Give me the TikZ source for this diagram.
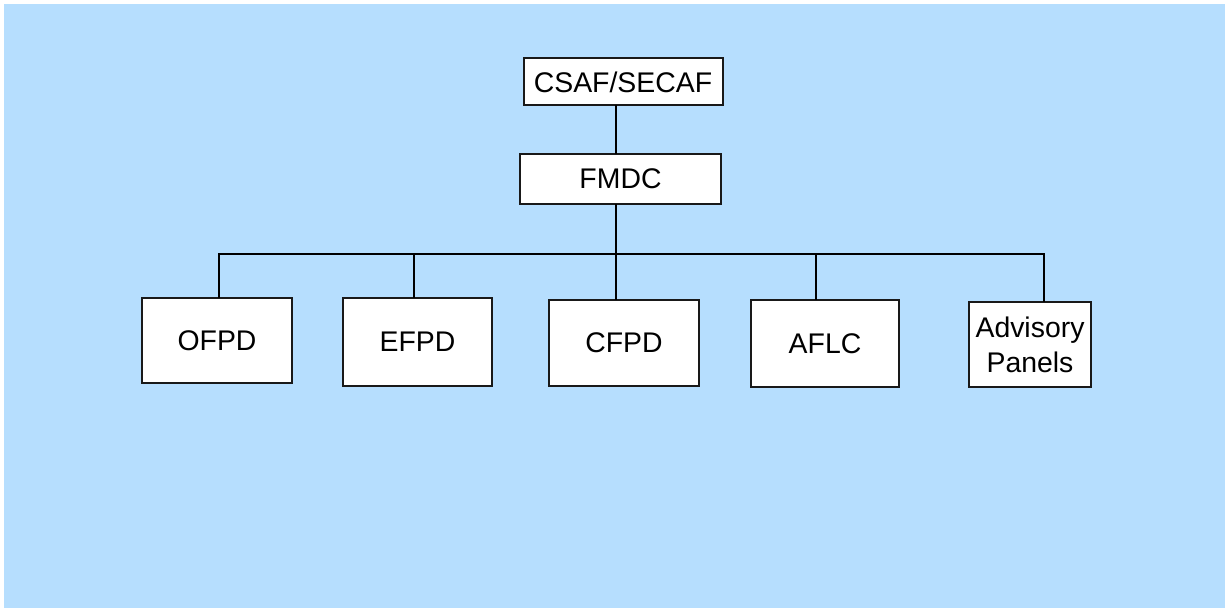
\documentclass[tikz,border=0pt]{standalone}
\usepackage{fontspec}
\setmainfont{Liberation Sans}
\definecolor{skyback}{RGB}{182,222,254}
\begin{document}
\begin{tikzpicture}[x=0.5pt, y=-0.5pt, line cap=rect, line join=miter, font=\fontsize{14.2}{17.5}\selectfont]
			\tikzset{unit box/.style={draw=black!90, line width=1pt, fill=white, inner sep=0pt, align=center}}
			\useasboundingbox (0,0) rectangle (1225,608);
			\fill[skyback] (4,4) rectangle (1225,608);
			% top of the chart
			\node[unit box, minimum width=99.5pt, minimum height=23.5pt] (csaf) at (623,82) {CSAF/SECAF};
			\node[unit box, minimum width=100.5pt, minimum height=25pt] (fmdc) at (620.5,179) {FMDC};
			% divisions
			\node[unit box, minimum width=75pt, minimum height=42.5pt] (ofpd) at (217,340.5) {OFPD};
			\node[unit box, minimum width=74.5pt, minimum height=44pt] (efpd) at (417.5,342) {EFPD};
			\node[unit box, minimum width=75pt, minimum height=43pt] (cfpd) at (624,343) {CFPD};
			\node[unit box, minimum width=74pt, minimum height=43.5pt] (aflc) at (825,343.5) {AFLC};
			\node[unit box, minimum width=61pt, minimum height=42.5pt] (panels) at (1030,344.5) {Advisory\\Panels};
			\coordinate (bus west) at (219,254);
			\coordinate (bus east) at (1044,254);
			\coordinate (bus efpd) at (414,254);
			\coordinate (bus cfpd) at (616,254);
			\coordinate (bus aflc) at (816,254);
			\draw[line width=1pt] (csaf.south -| bus cfpd) -- (fmdc.north -| bus cfpd);
			\draw[line width=1pt] (fmdc.south -| bus cfpd) -- (bus cfpd);
			\draw[line width=1pt] (ofpd.north -| bus west) -- (bus west) -- (bus east) -- (panels.north -| bus east);
			\draw[line width=1pt] (efpd.north -| bus efpd) -- (bus efpd);
			\draw[line width=1pt] (cfpd.north -| bus cfpd) -- (bus cfpd);
			\draw[line width=1pt] (aflc.north -| bus aflc) -- (bus aflc);
		\end{tikzpicture}
\end{document}
